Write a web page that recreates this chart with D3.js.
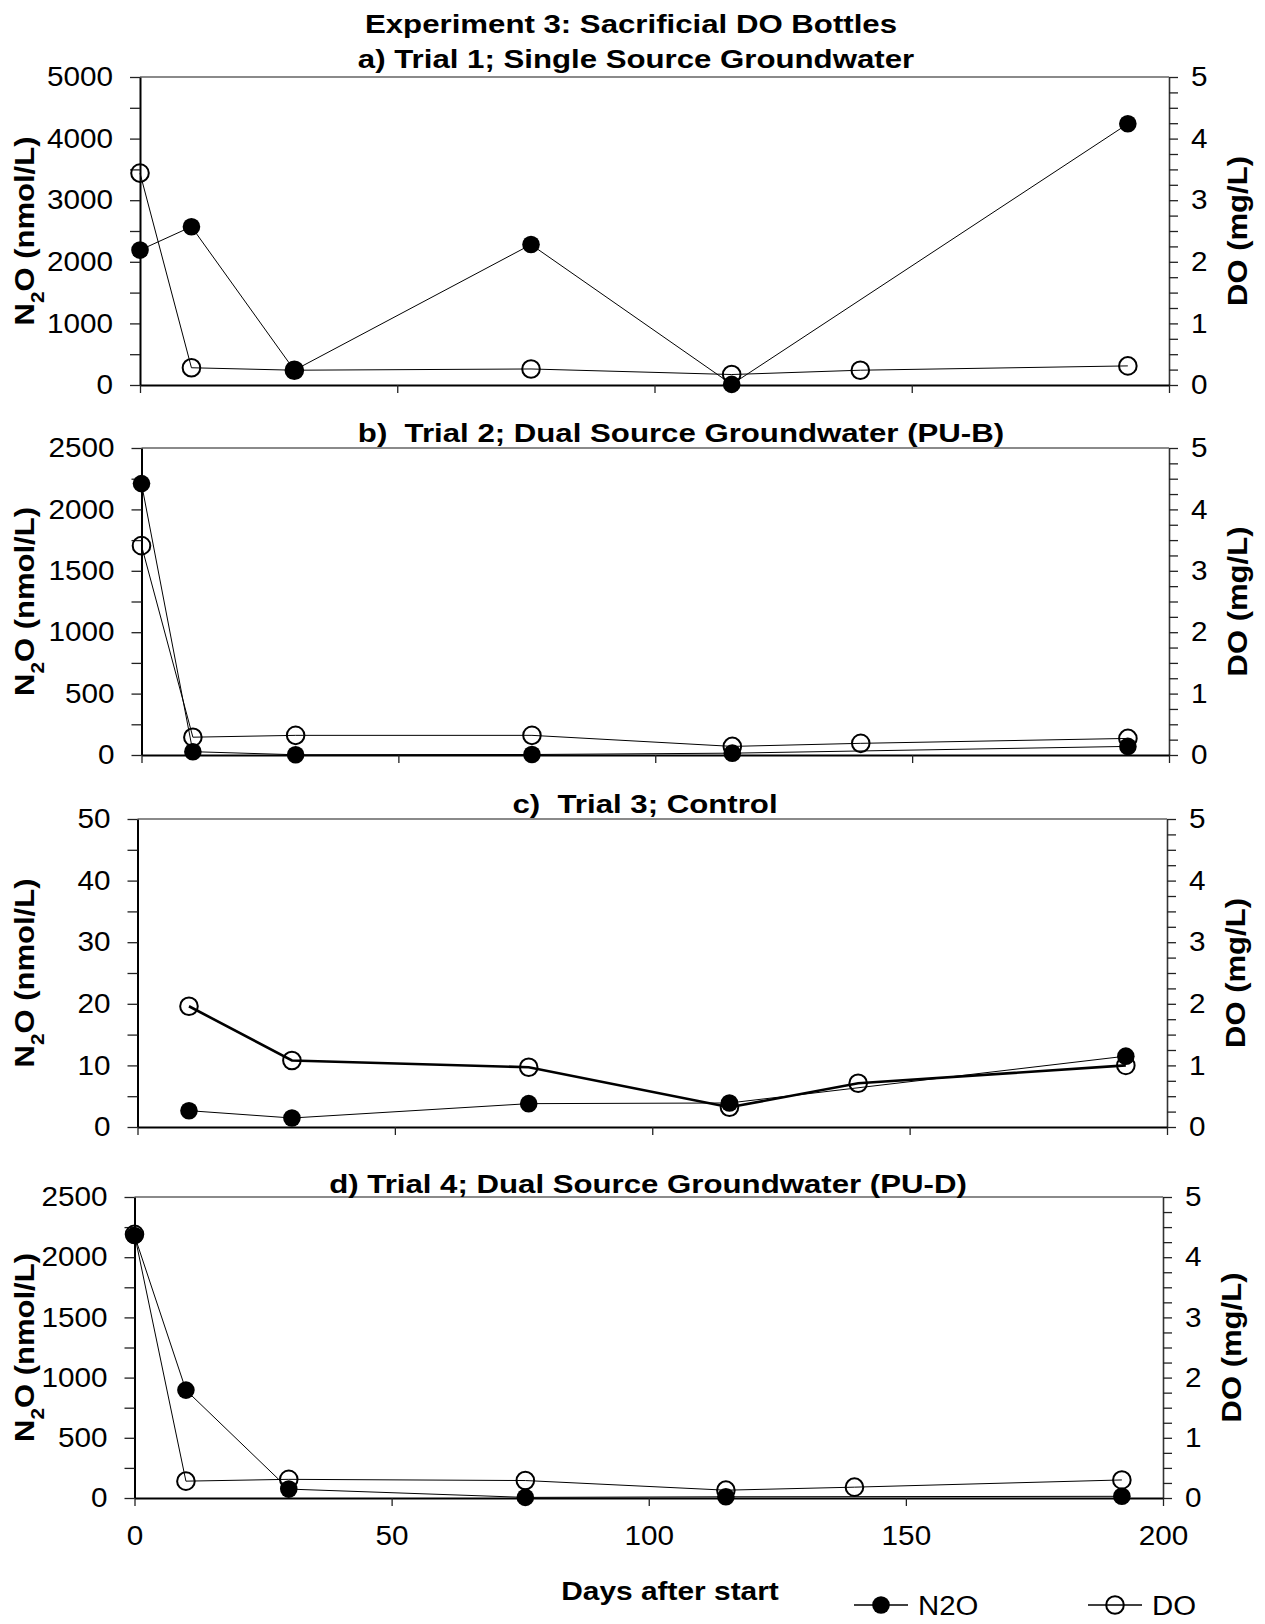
<!DOCTYPE html>
<html>
<head>
<meta charset="utf-8">
<script src="https://cdn.jsdelivr.net/npm/d3@7"></script>
<style>
  body { margin: 0; background: #ffffff; }
  svg { display: block; font-family: "Liberation Sans", Arial, sans-serif; }
</style>
</head>
<body>
<div id="chart"></div>
<script>
// Sampling days (shared by all four trials)
const days = [0, 10, 30, 76, 115, 140, 192];
const xTicks = [0, 50, 100, 150, 200];

const chartTitle = 'Experiment 3: Sacrificial DO Bottles';
const panelTitles = [
    'a) Trial 1; Single Source Groundwater',
    'b)  Trial 2; Dual Source Groundwater (PU-B)',
    'c)  Trial 3; Control',
    'd) Trial 4; Dual Source Groundwater (PU-D)'
];

// Left axis (N2O) range and label step per panel
const n2oMax = [5000, 2500, 50, 2500];
const n2oLabelStep = [1000, 500, 10, 500];
const doMax = 5;

// N2O (nmol/L), null = not sampled
const n2oTrial1 = [2190, 2570, 240, 2280, 10, null, 4240];
const n2oTrial2 = [2210, 27, 2, 4, 15, null, 70];
const n2oTrial3 = [null, 2.65, 1.46, 3.79, 3.9, null, 11.5];
const n2oTrial4 = [2180, 896, 74, 5, 10, null, 14];

// DO (mg/L)
const doTrial1 = [3.44, 0.28, 0.24, 0.26, 0.17, 0.24, 0.31];
const doTrial2 = [3.41, 0.29, 0.32, 0.32, 0.14, 0.19, 0.27];
const doTrial3 = [null, 1.96, 1.08, 0.97, 0.32, 0.71, 1.0];
const doTrial4 = [4.38, 0.28, 0.31, 0.29, 0.13, 0.18, 0.30];

const n2oSeries = [n2oTrial1, n2oTrial2, n2oTrial3, n2oTrial4];
const doSeries = [doTrial1, doTrial2, doTrial3, doTrial4];

const legendItems = ['N2O', 'DO'];

// ---- layout ----
const width = 1265;
const height = 1624;
const SX = 1.2;      // horizontal stretch of the bold lettering
const TICK_SX = 1.1; // and of the tick numbers
const panels = [
    { left: 140, right: 1169, top: 77, bottom: 385, titleX: 636, titleY: 68 },
    { left: 141.5, right: 1169, top: 448, bottom: 755, titleX: 681, titleY: 442 },
    { left: 137.5, right: 1167, top: 819, bottom: 1127, titleX: 645, titleY: 813 },
    { left: 134.5, right: 1163, top: 1197, bottom: 1498, titleX: 648, titleY: 1193 }
];
const markerR = 8.8;

const svg = d3.select('#chart')
    .append('svg')
    .attr('width', width)
    .attr('height', height);

function stretch(sel, x, y, rotate, sx = SX) {
    const rot = rotate ? ` rotate(${rotate})` : '';
    return sel.attr('transform', `translate(${x},${y})${rot} scale(${sx},1)`);
}

function styleTicks(g) {
    g.selectAll('.tick text')
        .style('font-size', '27px')
        .attr('fill', '#000')
        .each(function () {
            const t = d3.select(this);
            const x = +t.attr('x') || 0;
            t.attr('x', 0).attr('transform', `translate(${x},0) scale(${TICK_SX},1)`);
        });
    g.selectAll('.tick line').attr('stroke', '#222').attr('stroke-width', 1.3);
}

// main title
stretch(svg.append('text'), 631, 33)
    .attr('text-anchor', 'middle')
    .style('font-size', '26px')
    .style('font-weight', 'bold')
    .text(chartTitle);

panels.forEach((p, i) => {
    const g = svg.append('g');
    const x = d3.scaleLinear().domain([0, 200]).range([p.left, p.right]);
    const yL = d3.scaleLinear().domain([0, n2oMax[i]]).range([p.bottom, p.top]);
    const yR = d3.scaleLinear().domain([0, doMax]).range([p.bottom, p.top]);

    // top frame line
    g.append('line')
        .attr('x1', p.left).attr('x2', p.right)
        .attr('y1', p.top).attr('y2', p.top)
        .attr('stroke', '#8a8a8a')
        .attr('stroke-width', 2);

    // left axis
    const minorStep = n2oLabelStep[i] / 2;
    const leftAxis = d3.axisLeft(yL)
        .tickValues(d3.range(0, n2oMax[i] + minorStep / 2, minorStep))
        .tickFormat(d => (Math.round(d / n2oLabelStep[i] * 1000) % 1000 === 0 ? d : ''))
        .tickSize(10)
        .tickSizeOuter(0)
        .tickPadding(17);
    const gl = g.append('g')
        .attr('transform', `translate(${p.left},0)`)
        .call(leftAxis);
    gl.select('.domain').attr('stroke', '#000').attr('stroke-width', 2);
    styleTicks(gl);

    // right axis (DO)
    const rightAxis = d3.axisRight(yR)
        .tickValues(d3.range(0, doMax + 0.01, 0.25))
        .tickFormat(d => (Number.isInteger(d) ? d : ''))
        .tickSize(9)
        .tickSizeOuter(0)
        .tickPadding(13);
    const gr = g.append('g')
        .attr('transform', `translate(${p.right},0)`)
        .call(rightAxis);
    gr.select('.domain').attr('stroke', '#333').attr('stroke-width', 1.6);
    styleTicks(gr);

    // bottom axis
    const last = i === panels.length - 1;
    const bottomAxis = d3.axisBottom(x)
        .tickValues(xTicks)
        .tickFormat(last ? d3.format('d') : () => '')
        .tickSize(8)
        .tickSizeOuter(0)
        .tickPadding(20);
    const gb = g.append('g')
        .attr('transform', `translate(0,${p.bottom})`)
        .call(bottomAxis);
    gb.select('.domain').attr('stroke', '#000').attr('stroke-width', 2);
    styleTicks(gb);

    // panel title
    stretch(g.append('text'), p.titleX, p.titleY)
        .attr('text-anchor', 'middle')
        .attr('xml:space', 'preserve')
        .style('white-space', 'pre')
        .style('font-size', '26px')
        .style('font-weight', 'bold')
        .text(panelTitles[i]);

    // axis labels
    const midY = (p.top + p.bottom) / 2;
    const yl = stretch(g.append('text'), 34, midY, -90, 1.15)
        .attr('text-anchor', 'middle')
        .style('font-size', '27px')
        .style('font-weight', 'bold');
    yl.append('tspan').text('N');
    yl.append('tspan').attr('baseline-shift', 'sub').style('font-size', '18px').text('2');
    yl.append('tspan').text('O (nmol/L)');

    stretch(g.append('text'), p.right + 78, midY, -90, 1.15)
        .attr('text-anchor', 'middle')
        .style('font-size', '27px')
        .style('font-weight', 'bold')
        .text('DO (mg/L)');

    // series
    const doPts = days.map((d, k) => ({ d, v: doSeries[i][k] })).filter(o => o.v != null);
    const n2oPts = days.map((d, k) => ({ d, v: n2oSeries[i][k] })).filter(o => o.v != null);

    g.append('path')
        .datum(doPts)
        .attr('fill', 'none')
        .attr('stroke', '#000')
        .attr('stroke-width', i === 2 ? 2.6 : 1)
        .attr('d', d3.line().x(o => x(o.d)).y(o => yR(o.v)));

    g.append('path')
        .datum(n2oPts)
        .attr('fill', 'none')
        .attr('stroke', '#000')
        .attr('stroke-width', 1)
        .attr('d', d3.line().x(o => x(o.d)).y(o => yL(o.v)));

    g.append('g').selectAll('circle')
        .data(doPts)
        .enter().append('circle')
        .attr('cx', o => x(o.d))
        .attr('cy', o => yR(o.v))
        .attr('r', markerR)
        .attr('fill', 'none')
        .attr('stroke', '#000')
        .attr('stroke-width', 2);

    g.append('g').selectAll('circle')
        .data(n2oPts)
        .enter().append('circle')
        .attr('cx', o => x(o.d))
        .attr('cy', o => yL(o.v))
        .attr('r', markerR)
        .attr('fill', '#000');
});

// x axis title
stretch(svg.append('text'), 670, 1600, 0, 1.15)
    .attr('text-anchor', 'middle')
    .style('font-size', '26px')
    .style('font-weight', 'bold')
    .text('Days after start');

// legend
const legendX = [854, 1088];
const legendY = 1605;
const lg = svg.append('g').selectAll('g')
    .data(legendItems)
    .enter().append('g')
    .attr('transform', (d, k) => `translate(${legendX[k]},${legendY})`);

lg.append('line')
    .attr('x1', 0).attr('x2', 54)
    .attr('y1', 0).attr('y2', 0)
    .attr('stroke', '#000')
    .attr('stroke-width', 1.5);

lg.append('circle')
    .attr('cx', 27)
    .attr('cy', 0)
    .attr('r', markerR)
    .attr('fill', (d, k) => (k === 0 ? '#000' : 'none'))
    .attr('stroke', '#000')
    .attr('stroke-width', (d, k) => (k === 0 ? 0 : 2));

lg.append('text')
    .attr('transform', `translate(64,10) scale(1.05,1)`)
    .style('font-size', '28px')
    .text(d => d);
</script>
</body>
</html>
